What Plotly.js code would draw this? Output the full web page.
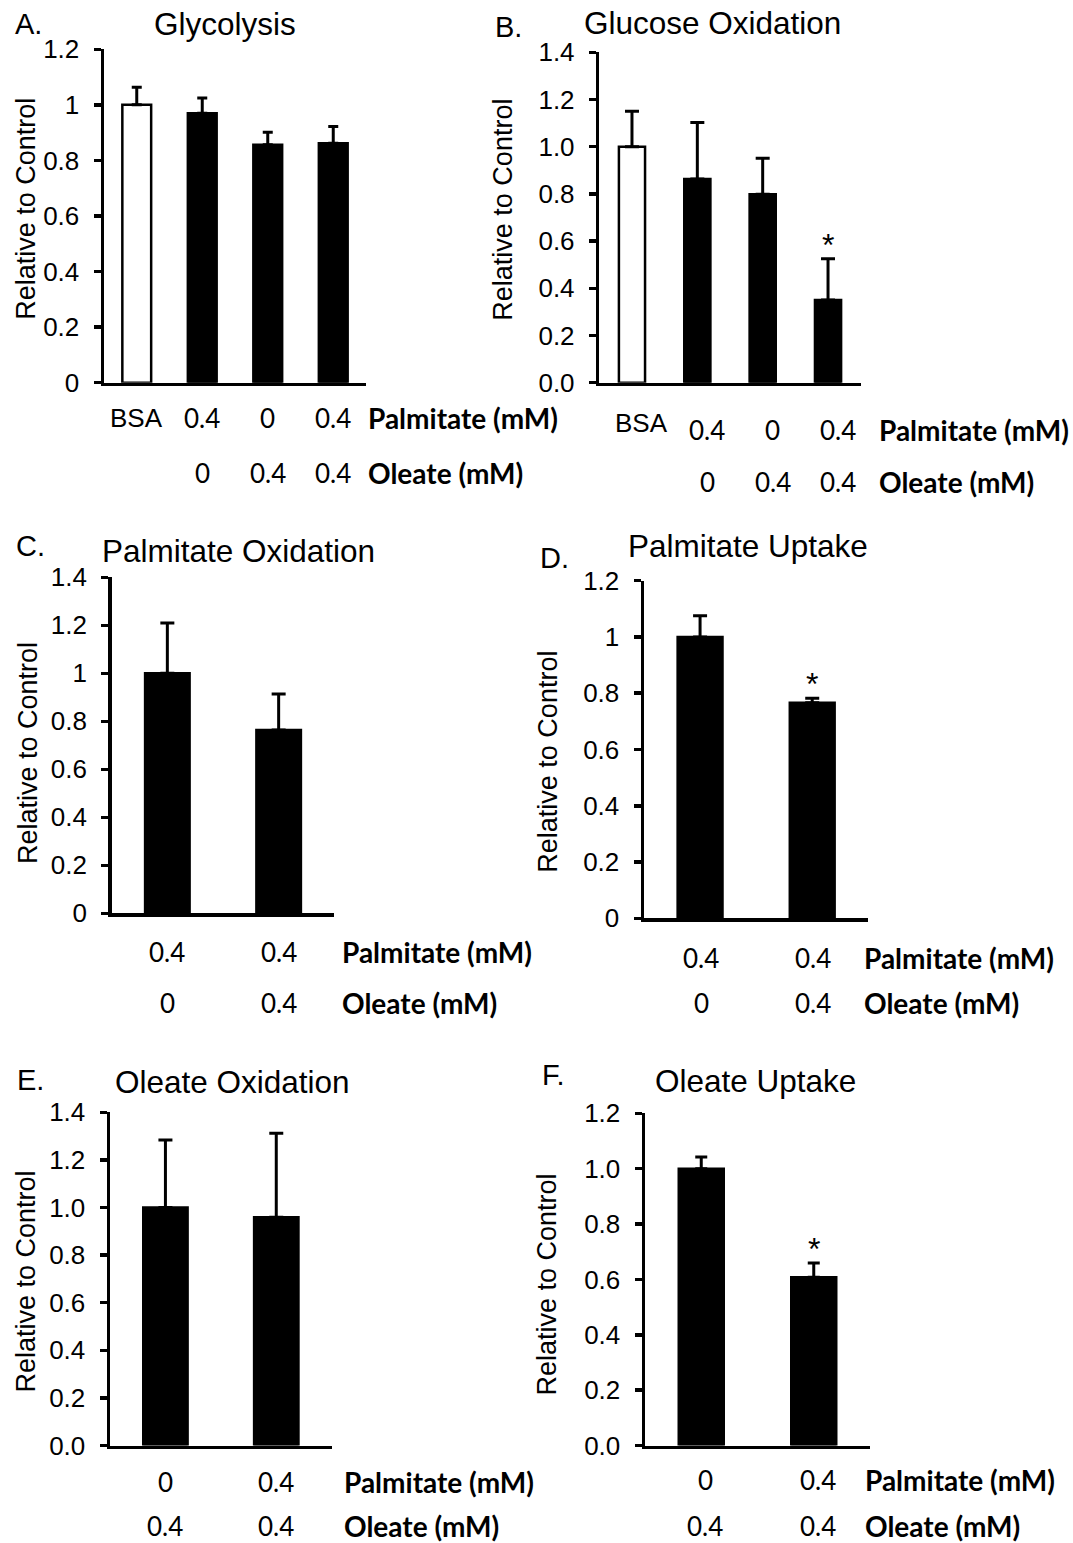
<!DOCTYPE html>
<html><head><meta charset="utf-8">
<script src="https://cdn.plot.ly/plotly-3.0.1.min.js"></script>
<style>html,body{margin:0;padding:0;background:#fff}#chart{width:1073px;height:1543px}</style>
</head><body><div id="chart"></div>
<script>
// ---------------- data ----------------
const catsAB = ['BSA', 'Pal 0.4', 'Ole 0.4', 'Pal 0.4 + Ole 0.4'];
const palmitateAB = ['BSA', '0.4', '0', '0.4'];
const oleateAB = ['', '0', '0.4', '0.4'];

const glycolysis = [1.00, 0.97, 0.856, 0.862];
const glycolysisErr = [0.063, 0.055, 0.045, 0.060];
const glycolysisSig = [false, false, false, false];

const glucoseOx = [1.00, 0.863, 0.798, 0.350];
const glucoseOxErr = [0.150, 0.240, 0.153, 0.175];
const glucoseOxSig = [false, false, false, true];

const catsCD = ['Pal 0.4', 'Pal 0.4 + Ole 0.4'];
const palmitateCD = ['0.4', '0.4'];
const oleateCD = ['0', '0.4'];

const palmitateOx = [1.00, 0.764];
const palmitateOxErr = [0.210, 0.150];
const palmitateOxSig = [false, false];

const palmitateUp = [1.00, 0.766];
const palmitateUpErr = [0.075, 0.016];
const palmitateUpSig = [false, true];

const catsEF = ['Ole 0.4', 'Pal 0.4 + Ole 0.4'];
const palmitateEF = ['0', '0.4'];
const oleateEF = ['0.4', '0.4'];

const oleateOx = [1.00, 0.959];
const oleateOxErr = [0.284, 0.353];
const oleateOxSig = [false, false];

const oleateUp = [1.00, 0.608];
const oleateUpErr = [0.042, 0.051];
const oleateUpSig = [false, true];

const ticks12 = [0, 0.2, 0.4, 0.6, 0.8, 1.0, 1.2];
const ticks14 = [0, 0.2, 0.4, 0.6, 0.8, 1.0, 1.2, 1.4];
const tickText12 = ['0', '0.2', '0.4', '0.6', '0.8', '1', '1.2'];
const tickText14 = ['0', '0.2', '0.4', '0.6', '0.8', '1', '1.2', '1.4'];
const tickText12f = ['0.0', '0.2', '0.4', '0.6', '0.8', '1.0', '1.2'];
const tickText14f = ['0.0', '0.2', '0.4', '0.6', '0.8', '1.0', '1.2', '1.4'];

const titles = ['Glycolysis', 'Glucose Oxidation', 'Palmitate Oxidation', 'Palmitate Uptake', 'Oleate Oxidation', 'Oleate Uptake'];
const letters = ['A.', 'B.', 'C.', 'D.', 'E.', 'F.'];
const yTitle = 'Relative to Control';
const palUnit = 'Palmitate (mM)';
const oleUnit = 'Oleate (mM)';

// ---------------- layout helpers ----------------
const W = 1073, H = 1543;
const px = v => v / W;
const py = v => 1 - v / H;

const ARIAL = 'Liberation Sans, Arial, sans-serif';
const CALIBRI = 'Lato, Carlito, Calibri, sans-serif';

const panels = [
  {cats: catsAB, vals: glycolysis, errs: glycolysisErr, sig: glycolysisSig, pal: palmitateAB, ole: oleateAB,
   ticks: ticks12, ttext: tickText12, dom: {l: 104, r: 366, t: 49.3, b: 382.7}, bw: 0.44, cap: 5,
   title: [225, 24], letter: [13, 24], ytitle: [25.8, 209], rows: [418, 473], unitX: 366, shift: 0, bsaDy: 0},
  {cats: catsAB, vals: glucoseOx, errs: glucoseOxErr, sig: glucoseOxSig, pal: palmitateAB, ole: oleateAB,
   ticks: ticks14, ttext: tickText14f, dom: {l: 599.3, r: 860.7, t: 52.3, b: 382.7}, bw: 0.40, cap: 7,
   title: [712, 23], letter: [493, 27], ytitle: [502.7, 210], rows: [430, 481.7], unitX: 877, shift: 10, bsaDy: -7},
  {cats: catsCD, vals: palmitateOx, errs: palmitateOxErr, sig: palmitateOxSig, pal: palmitateCD, ole: oleateCD,
   ticks: ticks14, ttext: tickText14, dom: {l: 111.7, r: 334.3, t: 577.3, b: 913.3}, bw: 0.40, cap: 7,
   title: [238.5, 551], letter: [14, 546], ytitle: [28, 753], rows: [951.7, 1003.3], unitX: 340, shift: 0, bsaDy: 0},
  {cats: catsCD, vals: palmitateUp, errs: palmitateUpErr, sig: palmitateUpSig, pal: palmitateCD, ole: oleateCD,
   ticks: ticks12, ttext: tickText12, dom: {l: 644, r: 868.3, t: 580.7, b: 918.3}, bw: 0.40, cap: 7,
   title: [747.5, 546], letter: [538, 558], ytitle: [548, 761.7], rows: [958.3, 1003.3], unitX: 861.7, shift: 1, bsaDy: 0},
  {cats: catsEF, vals: oleateOx, errs: oleateOxErr, sig: oleateOxSig, pal: palmitateEF, ole: oleateEF,
   ticks: ticks14, ttext: tickText14f, dom: {l: 110, r: 331.7, t: 1112.3, b: 1445.5}, bw: 0.40, cap: 7,
   title: [232, 1082], letter: [15, 1080], ytitle: [25.8, 1281.7], rows: [1481.7, 1526], unitX: 341.7, shift: 0, bsaDy: 0},
  {cats: catsEF, vals: oleateUp, errs: oleateUpErr, sig: oleateUpSig, pal: palmitateEF, ole: oleateEF,
   ticks: ticks12, ttext: tickText12f, dom: {l: 645, r: 870, t: 1113.3, b: 1445.5}, bw: 0.40, cap: 6,
   title: [755.5, 1081], letter: [540, 1075], ytitle: [546.5, 1285], rows: [1480, 1526], unitX: 863.3, shift: 4, bsaDy: 0}
];

const traces = [];
const layout = {
  width: W, height: H,
  margin: {l: 0, r: 0, t: 0, b: 0},
  paper_bgcolor: '#fff', plot_bgcolor: 'rgba(0,0,0,0)',
  showlegend: false,
  annotations: []
};
const ann = layout.annotations;

panels.forEach((p, i) => {
  const n = i + 1;
  const xid = n === 1 ? 'x' : 'x' + n;
  const yid = n === 1 ? 'y' : 'y' + n;
  const xk = n === 1 ? 'xaxis' : 'xaxis' + n;
  const yk = n === 1 ? 'yaxis' : 'yaxis' + n;

  traces.push({
    type: 'bar', x: p.cats, y: p.vals, xaxis: xid, yaxis: yid,
    width: p.bw,
    marker: {color: p.cats.map(c => c === 'BSA' ? '#ffffff' : '#000000'),
             line: {color: '#000', width: 2.5}},
    error_y: {type: 'data', symmetric: false, array: p.errs, arrayminus: p.errs.map(() => 0),
              color: '#000', thickness: 3, width: p.cap},
    hoverinfo: 'skip'
  });

  layout[xk] = {
    domain: [px(p.dom.l), px(p.dom.r)], anchor: yid,
    type: 'category', range: [-0.5, p.cats.length - 0.5],
    showline: true, linecolor: '#000', linewidth: 3.5,
    ticks: '', showticklabels: false, showgrid: false, zeroline: false, fixedrange: true
  };
  layout[yk] = {
    domain: [py(p.dom.b), py(p.dom.t)], anchor: xid,
    range: [0, p.ticks[p.ticks.length - 1]],
    tickmode: 'array', tickvals: p.ticks, ticktext: p.ttext,
    showline: true, linecolor: '#000', linewidth: 3.5,
    ticks: 'outside', ticklen: 7, tickwidth: 3.5, tickcolor: '#000',
    ticklabelstandoff: 9,
    tickfont: {family: ARIAL, size: 26, color: '#000'},
    showgrid: false, zeroline: false, fixedrange: true
  };

  // panel title & letter
  ann.push({xref: 'paper', yref: 'paper', x: px(p.title[0]), y: py(p.title[1]), xanchor: 'center', yanchor: 'middle',
            text: titles[i], showarrow: false, font: {family: ARIAL, size: 31.5, color: '#000'}});
  ann.push({xref: 'paper', yref: 'paper', x: px(p.letter[0]), y: py(p.letter[1]), xanchor: 'left', yanchor: 'middle',
            text: letters[i], showarrow: false, font: {family: ARIAL, size: 29, color: '#000'}});
  // y title
  ann.push({xref: 'paper', yref: 'paper', x: px(p.ytitle[0]), y: py(p.ytitle[1]), xanchor: 'center', yanchor: 'middle',
            text: yTitle, textangle: -90, showarrow: false, font: {family: ARIAL, size: 27, color: '#000'}});

  // condition rows
  p.cats.forEach((c, j) => {
    const isBSA = p.pal[j] === 'BSA';
    ann.push({xref: xid, yref: 'paper', x: c, y: py(p.rows[0] + (isBSA ? p.bsaDy : 0)), xanchor: 'center', yanchor: 'middle',
              xshift: p.shift, text: p.pal[j], showarrow: false,
              font: {family: isBSA ? ARIAL : CALIBRI, size: 26, color: '#000'}});
    if (p.ole[j] !== '') {
      ann.push({xref: xid, yref: 'paper', x: c, y: py(p.rows[1]), xanchor: 'center', yanchor: 'middle',
                xshift: p.shift, text: p.ole[j], showarrow: false,
                font: {family: CALIBRI, size: 26, color: '#000'}});
    }
    if (p.sig[j]) {
      ann.push({xref: xid, yref: yid, x: c, y: p.vals[j] + p.errs[j], xanchor: 'center', yanchor: 'bottom',
                yshift: -6, text: '*', showarrow: false, font: {family: ARIAL, size: 32, color: '#000'}});
    }
  });
  ann.push({xref: 'paper', yref: 'paper', x: px(p.unitX), y: py(p.rows[0]), xanchor: 'left', yanchor: 'middle',
            text: '<b>' + palUnit + '</b>', showarrow: false, font: {family: CALIBRI, size: 28, color: '#000'}});
  ann.push({xref: 'paper', yref: 'paper', x: px(p.unitX), y: py(p.rows[1]), xanchor: 'left', yanchor: 'middle',
            text: '<b>' + oleUnit + '</b>', showarrow: false, font: {family: CALIBRI, size: 28, color: '#000'}});
});

Plotly.newPlot('chart', traces, layout, {staticPlot: true, displayModeBar: false});
</script>
</body></html>
